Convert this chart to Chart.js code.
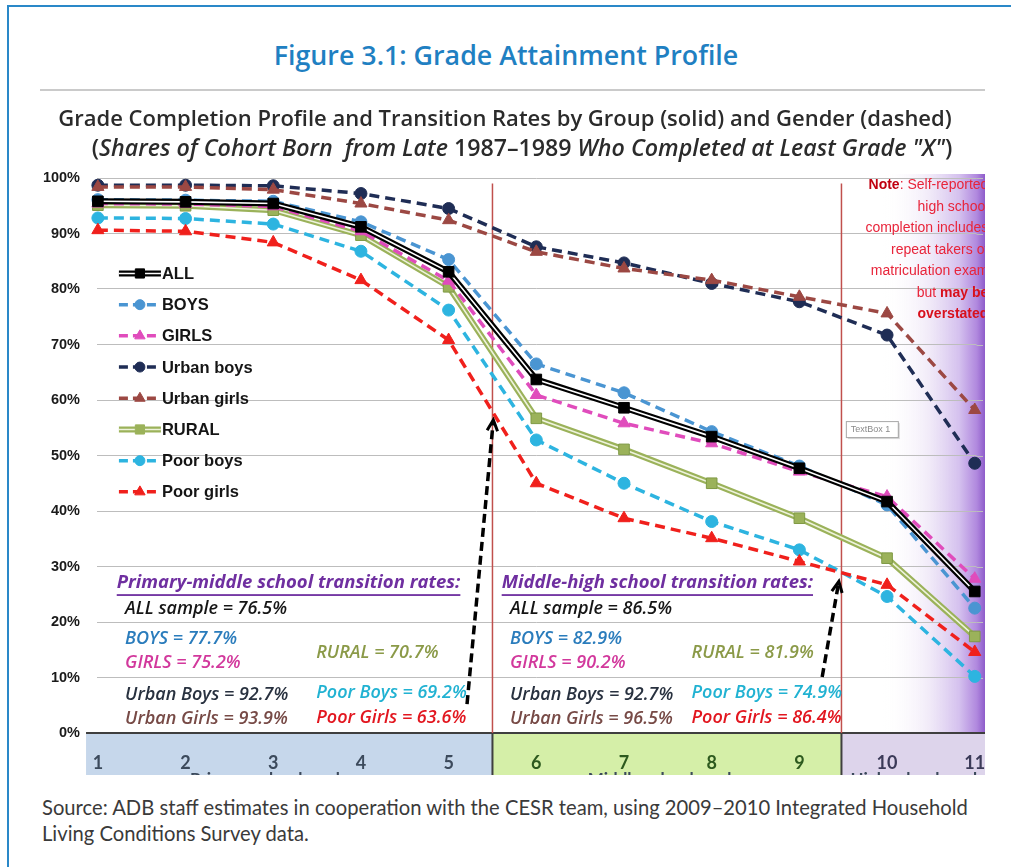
<!DOCTYPE html>
<html>
<head>
<meta charset="utf-8">
<title>Grade Attainment Profile</title>
<script src="https://cdn.jsdelivr.net/npm/chart.js@4.4.0/dist/chart.umd.min.js"></script>
<style>
  body { margin: 0; width: 1011px; height: 867px; overflow: hidden; background: #fff; position: relative; font-family: Lato, sans-serif; }
  #frame { position: absolute; left: 7px; top: 5px; width: 1030px; height: 900px; border: 2px solid #2a88c8; box-sizing: border-box; }
  #figTitle { position: absolute; left: 0; top: 38px; width: 1012px; line-height: 34px; text-align: center; font-family: "Open Sans"; font-weight: 600; font-size: 26.8px; color: #1f80c2; }
  #rule { position: absolute; left: 40px; top: 89px; width: 945px; height: 2px; background: #cacaca; }
  #chartBox { position: absolute; left: 40px; top: 90px; width: 945px; height: 685px; }
  .head { position: absolute; text-align: center; font-family: "Open Sans"; font-weight: 600; line-height: 28px; color: #2b2b2b; white-space: nowrap; }
  #head1 { left: 0; width: 1010px; top: 103px; font-size: 22px; }
  #head2 { left: 0; width: 1044px; top: 133px; font-size: 23.2px; }
  #source { position: absolute; left: 42px; top: 794px; font-size: 20.2px; line-height: 26px; color: #3a3a3a; }
</style>
</head>
<body>
<div id="frame"></div>
<div id="figTitle">Figure 3.1: Grade Attainment Profile</div>
<div id="rule"></div>
<div id="chartBox"><canvas id="chart"></canvas></div>
<div class="head" id="head1">Grade Completion Profile and Transition Rates by Group (solid) and Gender (dashed)</div>
<div class="head" id="head2">(<i>Shares of Cohort Born&nbsp; from Late</i> 1987–1989 <i>Who Completed at Least Grade "X"</i>)</div>
<div id="source">Source: ADB staff estimates in cooperation with the CESR team, using 2009–2010 Integrated Household<br>Living Conditions Survey data.</div>

<script>
// grades on the x axis
const grades = [1, 2, 3, 4, 5, 6, 7, 8, 9, 10, 11];

// share of cohort who completed at least grade X (%)
const allShare        = [95.8, 95.7, 95.4, 91.2, 83.1, 63.7, 58.6, 53.4, 47.7, 41.7, 25.5];
const boysShare       = [96.1, 96.0, 95.8, 92.1, 85.3, 66.5, 61.3, 54.3, 48.1, 41.1, 22.5];
const girlsShare      = [95.4, 95.3, 94.9, 90.4, 81.5, 60.9, 55.8, 52.2, 47.1, 42.6, 27.8];
const urbanBoysShare  = [98.7, 98.7, 98.6, 97.2, 94.5, 87.6, 84.7, 81.0, 77.7, 71.7, 48.6];
const urbanGirlsShare = [98.4, 98.4, 97.9, 95.4, 92.4, 86.7, 83.7, 81.6, 78.6, 75.6, 58.2];
const ruralShare      = [95.1, 95.0, 94.2, 89.7, 80.4, 56.7, 51.1, 45.0, 38.7, 31.5, 17.4];
const poorBoysShare   = [92.8, 92.7, 91.7, 86.8, 76.2, 52.8, 45.0, 38.1, 33.0, 24.6, 10.2];
const poorGirlsShare  = [90.6, 90.4, 88.4, 81.6, 70.8, 45.0, 38.7, 35.1, 30.9, 26.7, 14.6];

// transition rates shown in the two text blocks
const rateGroups        = ['ALL sample', 'BOYS', 'GIRLS', 'RURAL', 'Urban Boys', 'Urban Girls', 'Poor Boys', 'Poor Girls'];
const primaryMiddleRate = [76.5, 77.7, 75.2, 70.7, 92.7, 93.9, 69.2, 63.6];
const middleHighRate    = [86.5, 82.9, 90.2, 81.9, 92.7, 96.5, 74.9, 86.4];

const legendNames = ['ALL', 'BOYS', 'GIRLS', 'Urban boys', 'Urban girls', 'RURAL', 'Poor boys', 'Poor girls'];
const yTicks = [0, 10, 20, 30, 40, 50, 60, 70, 80, 90, 100];
const schoolLevels = ['Primary school grades', 'Middle school grades', 'High school grades'];

// styles per series
const styles = {
  'ALL':         { color: '#000000', inner: '#ffffff', marker: 'rect', radius: 7.5 },
  'BOYS':        { color: '#4a95d2', marker: 'circle', radius: 6 },
  'GIRLS':       { color: '#e04cbc', marker: 'triangle', radius: 7 },
  'Urban boys':  { color: '#1f2d55', marker: 'circle', radius: 6 },
  'Urban girls': { color: '#9c4843', marker: 'triangle', radius: 7 },
  'RURAL':       { color: '#9bb25a', inner: '#eef3dc', marker: 'rect', radius: 7.5 },
  'Poor boys':   { color: '#2db4e0', marker: 'circle', radius: 6 },
  'Poor girls':  { color: '#f0201c', marker: 'triangle', radius: 7 }
};
const seriesData = {
  'ALL': allShare, 'BOYS': boysShare, 'GIRLS': girlsShare, 'Urban boys': urbanBoysShare,
  'Urban girls': urbanGirlsShare, 'RURAL': ruralShare, 'Poor boys': poorBoysShare, 'Poor girls': poorGirlsShare
};
const dash = [10, 6];

function toPoints(values) {
  return grades.map((g, i) => ({ x: g, y: values[i] }));
}

function dashedSet(name, order) {
  const s = styles[name];
  return {
    label: name, data: toPoints(seriesData[name]), order, clip: false,
    borderColor: s.color, backgroundColor: s.color, borderWidth: 3.5, borderDash: dash,
    pointStyle: s.marker, pointRadius: s.radius, pointBackgroundColor: s.color, pointBorderColor: s.color,
    pointBorderWidth: 1, tension: 0
  };
}

// solid groups are drawn as a double line: wide outer line, thin inner line, then markers
function doubleSets(name, order) {
  const s = styles[name];
  const pts = toPoints(seriesData[name]);
  return [
    { label: name, data: pts, order: order + 2, clip: false, borderColor: s.color, borderWidth: 6, pointRadius: 0, tension: 0 },
    { label: name + ' inner', data: pts, order: order + 1, clip: false, borderColor: s.inner, borderWidth: 1.6, pointRadius: 0, tension: 0 },
    { label: name + ' markers', data: pts, order: order, clip: false, showLine: false, pointStyle: s.marker, pointRadius: s.radius,
      pointBackgroundColor: s.color, pointBorderColor: name === 'ALL' ? '#000' : '#7f9a45', pointBorderWidth: 1 }
  ];
}

const datasets = [
  ...doubleSets('ALL', 0),
  dashedSet('GIRLS', 3),
  dashedSet('BOYS', 4),
  ...doubleSets('RURAL', 5),
  dashedSet('Urban girls', 8),
  dashedSet('Urban boys', 9),
  dashedSet('Poor girls', 10),
  dashedSet('Poor boys', 11)
];

function drawArrow(ctx, x1, y1, x2, y2) {
  const ang = Math.atan2(y2 - y1, x2 - x1);
  ctx.save();
  ctx.strokeStyle = '#000';
  ctx.lineWidth = 3.5;
  ctx.setLineDash([9, 5]);
  ctx.beginPath();
  ctx.moveTo(x1, y1);
  ctx.lineTo(x2 - Math.cos(ang) * 3, y2 - Math.sin(ang) * 3);
  ctx.stroke();
  ctx.setLineDash([]);
  ctx.lineWidth = 3;
  ctx.beginPath();
  ctx.moveTo(x2 - Math.cos(ang - 0.45) * 12, y2 - Math.sin(ang - 0.45) * 12);
  ctx.lineTo(x2, y2);
  ctx.lineTo(x2 - Math.cos(ang + 0.45) * 12, y2 - Math.sin(ang + 0.45) * 12);
  ctx.stroke();
  ctx.restore();
}

const rateColors = ['#151515', '#2a7cbc', '#d2389c', '#8b9a48', '#28313f', '#774a46', '#21b2d2', '#e2161f'];
const rateCol = [0, 0, 0, 1, 0, 0, 1, 1];
const rateY = [22.4, 16.9, 12.6, 14.5, 6.9, 2.6, 7.3, 2.8];

function drawRateBlock(ctx, x, y, title, rates, col0, col1) {
  ctx.save();
  ctx.textBaseline = 'middle';
  ctx.textAlign = 'left';
  ctx.font = 'italic 700 18.5px "Open Sans"';
  ctx.fillStyle = '#6f2fa0';
  const tx = x.getPixelForValue(col0 - 0.095), ty = y.getPixelForValue(27.0);
  ctx.fillText(title, tx, ty);
  const w = ctx.measureText(title).width;
  ctx.fillRect(tx, ty + 11, w, 1.8);
  ctx.font = 'italic 600 18px "Open Sans"';
  rateGroups.forEach((g, i) => {
    ctx.fillStyle = rateColors[i];
    const px = x.getPixelForValue(rateCol[i] ? col1 : col0);
    ctx.fillText(g + ' = ' + rates[i].toFixed(1) + '%', px, y.getPixelForValue(rateY[i]));
  });
  ctx.restore();
}

const noteLines = [
  [['Note', true], [': Self-reported', false]],
  [['high school', false]],
  [['completion includes', false]],
  [['repeat takers of', false]],
  [['matriculation exam', false]],
  [['but ', false], ['may be', true]],
  [['overstated', true]]
];

const decor = {
  id: 'decor',
  beforeDraw(chart) {
    const { ctx, chartArea: a, scales: { x, y } } = chart;
    ctx.save();
    // purple shading at the right edge of the plot
    const gx = x.getPixelForValue(9.95);
    const grad = ctx.createLinearGradient(gx, 0, chart.width, 0);
    grad.addColorStop(0, 'rgba(255,255,255,0)');
    grad.addColorStop(0.45, 'rgba(238,230,247,0.8)');
    grad.addColorStop(0.75, 'rgba(212,192,238,1)');
    grad.addColorStop(0.92, 'rgba(176,136,222,1)');
    grad.addColorStop(1, 'rgba(142,92,202,1)');
    ctx.fillStyle = grad;
    ctx.fillRect(gx, a.top - 4, chart.width - gx, a.bottom - a.top + 4);

    // grade bands under the axis
    const b1 = x.getPixelForValue(0.865), b2 = x.getPixelForValue(5.5), b3 = x.getPixelForValue(9.48);
    ctx.fillStyle = '#c6d7eb';
    ctx.fillRect(b1, a.bottom, b2 - b1, chart.height - a.bottom);
    ctx.fillStyle = '#d5efa8';
    ctx.fillRect(b2, a.bottom, b3 - b2, chart.height - a.bottom);
    ctx.fillStyle = '#ddd4eb';
    ctx.fillRect(b3, a.bottom, chart.width - b3, chart.height - a.bottom);
    ctx.restore();
  },
  beforeDatasetsDraw(chart) {
    const { ctx, chartArea: a, scales: { x, y } } = chart;
    ctx.save();
    // extend the grid lines to the cropped right edge
    ctx.strokeStyle = '#bdbdbd';
    ctx.lineWidth = 1;
    ctx.beginPath();
    yTicks.forEach(v => {
      const py = Math.round(y.getPixelForValue(v)) + 0.5;
      ctx.moveTo(a.right, py);
      ctx.lineTo(chart.width - 2, py);
    });
    ctx.stroke();

    // axis line and band separators
    ctx.strokeStyle = '#3f3f3f';
    ctx.lineWidth = 2;
    ctx.beginPath();
    ctx.moveTo(x.getPixelForValue(0.865), a.bottom);
    ctx.lineTo(chart.width, a.bottom);
    [5.5, 9.48].forEach(v => {
      ctx.moveTo(x.getPixelForValue(v), a.bottom);
      ctx.lineTo(x.getPixelForValue(v), chart.height);
    });
    ctx.stroke();
    // red phase dividers
    ctx.strokeStyle = '#c0504d';
    ctx.lineWidth = 1.5;
    ctx.beginPath();
    [5.5, 9.48].forEach(v => {
      ctx.moveTo(x.getPixelForValue(v), y.getPixelForValue(99));
      ctx.lineTo(x.getPixelForValue(v), a.bottom);
    });
    ctx.stroke();

    // half-hidden school level captions in the bands
    ctx.font = '700 17px Lato';
    ctx.textAlign = 'center';
    ctx.textBaseline = 'top';
    ctx.fillStyle = '#3c4a5c';
    [3, 7.5, 10.4].forEach((v, i) => {
      ctx.fillText(schoolLevels[i], x.getPixelForValue(v), chart.height - 4);
    });

    // "TextBox 1" leftover box
    const bx = x.getPixelForValue(9.53), by = y.getPixelForValue(56.2);
    ctx.fillStyle = '#d9d9d9';
    ctx.fillRect(bx + 2, by + 2, 52, 16);
    ctx.fillStyle = '#fff';
    ctx.fillRect(bx, by, 52, 16);
    ctx.strokeStyle = '#a8a8a8';
    ctx.lineWidth = 1;
    ctx.strokeRect(bx + 0.5, by + 0.5, 52, 16);
    ctx.font = '9px "Liberation Sans"';
    ctx.fillStyle = '#8a8a8a';
    ctx.textAlign = 'left';
    ctx.textBaseline = 'middle';
    ctx.fillText('TextBox 1', bx + 5, by + 8.5);
    ctx.restore();
  },
  afterDatasetsDraw(chart) {
    const { ctx, scales: { x, y } } = chart;
    ctx.save();

    // legend
    const lx = x.getPixelForValue(1.24);
    const ly = y.getPixelForValue(82.8);
    legendNames.forEach((name, i) => {
      const s = styles[name];
      const cy = ly + i * 31.2;
      const mx = lx + 21;
      ctx.lineCap = 'butt';
      if (s.inner) {
        ctx.setLineDash([]);
        ctx.strokeStyle = s.color; ctx.lineWidth = 6;
        ctx.beginPath(); ctx.moveTo(lx, cy); ctx.lineTo(lx + 42, cy); ctx.stroke();
        ctx.strokeStyle = s.inner; ctx.lineWidth = 1.6;
        ctx.beginPath(); ctx.moveTo(lx, cy); ctx.lineTo(lx + 42, cy); ctx.stroke();
      } else {
        ctx.setLineDash([9, 5]);
        ctx.strokeStyle = s.color; ctx.lineWidth = 3.5;
        ctx.beginPath(); ctx.moveTo(lx, cy); ctx.lineTo(lx + 42, cy); ctx.stroke();
      }
      ctx.setLineDash([]);
      ctx.fillStyle = s.color;
      ctx.strokeStyle = s.color;
      ctx.lineWidth = 1;
      Chart.helpers.drawPoint(ctx, { pointStyle: s.marker, radius: s.radius - 1, borderWidth: 1 }, mx, cy);
      ctx.font = '700 16.5px "Liberation Sans"';
      ctx.fillStyle = '#151515';
      ctx.textAlign = 'left';
      ctx.textBaseline = 'middle';
      ctx.fillText(name, lx + 43, cy + 1);
    });

    // transition rate text blocks
    drawRateBlock(ctx, x, y, 'Primary-middle school transition rates:', primaryMiddleRate, 1.31, 3.49);
    drawRateBlock(ctx, x, y, 'Middle-high school transition rates:', middleHighRate, 5.70, 7.77);

    // arrows pointing at the transitions
    drawArrow(ctx, x.getPixelForValue(5.21), y.getPixelForValue(5.2), x.getPixelForValue(5.51), y.getPixelForValue(56.4));
    drawArrow(ctx, x.getPixelForValue(9.26), y.getPixelForValue(10.1), x.getPixelForValue(9.45), y.getPixelForValue(27.3));

    // note at the top right
    ctx.textAlign = 'left';
    ctx.textBaseline = 'middle';
    const rightX = x.getPixelForValue(11.155);
    noteLines.forEach((segs, i) => {
      const cy = y.getPixelForValue(98.7) + i * 21.5;
      let total = 0;
      segs.forEach(([t, bold]) => {
        ctx.font = (bold ? '700 ' : '') + '14px "Liberation Sans"';
        total += ctx.measureText(t).width;
      });
      let px = rightX - total;
      segs.forEach(([t, bold], j) => {
        ctx.font = (bold ? '700 ' : '') + '14px "Liberation Sans"';
        ctx.fillStyle = (i === 0 && j === 0) ? '#c00010' : (bold ? '#d8101c' : '#e8243a');
        ctx.fillText(t, px, cy);
        px += ctx.measureText(t).width;
      });
    });
    ctx.restore();
  }
};

const tickColor = v => v <= 5 ? '#3c4a5c' : (v <= 9 ? '#2d5a1e' : '#3b3a58');

new Chart(document.getElementById('chart').getContext('2d'), {
  type: 'line',
  data: { datasets },
  options: {
    responsive: true,
    maintainAspectRatio: false,
    animation: false,
    layout: { padding: { top: 88, right: 2, left: 0, bottom: 0 } },
    plugins: {
      legend: { display: false },
      tooltip: { enabled: false },
      title: { display: false }
    },
    scales: {
      x: {
        type: 'linear',
        min: 0.99,
        max: 11.02,
        grid: { display: false, drawTicks: false },
        border: { display: false },
        afterFit: s => { s.height = 42; s.paddingLeft = 0; s.paddingRight = 0; },
        afterBuildTicks: s => { s.ticks = grades.map(v => ({ value: v })); },
        ticks: {
          padding: 19,
          autoSkip: false,
          maxRotation: 0,
          font: { family: 'Lato', size: 18, weight: '700' },
          color: c => tickColor(c.tick.value),
          callback: v => String(v)
        }
      },
      y: {
        min: 0,
        max: 100,
        afterFit: s => { s.width = 57; },
        afterBuildTicks: s => { s.ticks = yTicks.map(v => ({ value: v })); },
        grid: { color: '#bdbdbd', lineWidth: 1, drawTicks: false },
        border: { display: false },
        ticks: {
          padding: 17,
          font: { family: 'Liberation Sans', size: 14.5, weight: '700' },
          color: '#1a1a1a',
          callback: v => v + '%'
        }
      }
    }
  },
  plugins: [decor]
});
</script>
</body>
</html>
